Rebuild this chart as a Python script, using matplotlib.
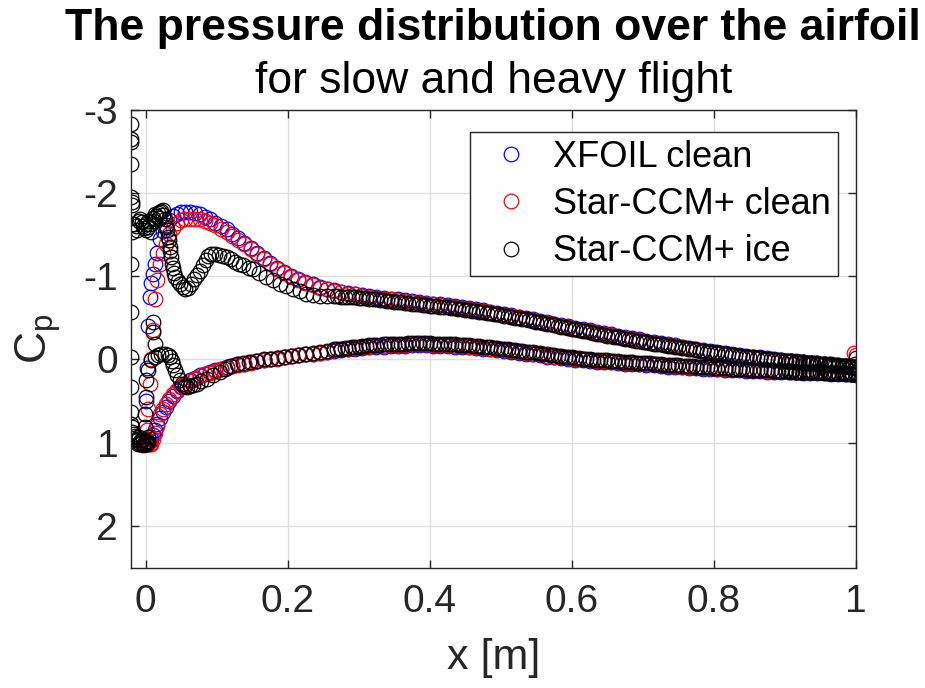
from __future__ import annotations

import matplotlib

matplotlib.use("Agg")
import matplotlib.pyplot as plt
import numpy as np


OUTPUT_PNG = "out.png"

TITLE = "The pressure distribution over the airfoil"
SUBTITLE = "for slow and heavy flight"
SERIES_LABELS = ["XFOIL clean", "Star-CCM+ clean", "Star-CCM+ ice"]
SERIES_COLORS = ["#0000ff", "#ff0000", "#000000"]

X_TICKS = [0, 0.2, 0.4, 0.6, 0.8, 1.0]
X_TICK_LABELS = ["0", "0.2", "0.4", "0.6", "0.8", "1"]
Y_TICKS = [-3, -2, -1, 0, 1, 2]
Y_TICK_LABELS = ["-3", "-2", "-1", "0", "1", "2"]

# chord stations shared by the clean curves (leading edge part + aft part)
X_LE = [
    0.000, 0.001, 0.002, 0.004, 0.006, 0.008, 0.010, 0.013, 0.016, 0.020,
    0.024, 0.028, 0.033, 0.038, 0.044, 0.050, 0.056, 0.062, 0.069, 0.076,
    0.083, 0.090, 0.098, 0.106, 0.114, 0.122, 0.130, 0.139, 0.148, 0.157,
    0.166, 0.175, 0.185, 0.195, 0.205, 0.215, 0.225, 0.235, 0.245, 0.255,
]
X_AFT = [
    0.265, 0.275, 0.285, 0.295, 0.305, 0.315, 0.325, 0.335, 0.345, 0.355,
    0.365, 0.375, 0.385, 0.395, 0.405, 0.415, 0.425, 0.435, 0.445, 0.455,
    0.465, 0.475, 0.485, 0.495, 0.505, 0.515, 0.525, 0.535, 0.545, 0.555,
    0.565, 0.575, 0.585, 0.595, 0.605, 0.615, 0.625, 0.635, 0.645, 0.655,
    0.665, 0.675, 0.685, 0.695, 0.705, 0.715, 0.725, 0.735, 0.745, 0.755,
    0.765, 0.775, 0.785, 0.795, 0.805, 0.815, 0.825, 0.835, 0.845, 0.855,
    0.865, 0.875, 0.885, 0.895, 0.905, 0.915, 0.925, 0.935, 0.945, 0.955,
    0.965, 0.975, 0.985, 0.995, 1.000,
]

# XFOIL clean
XFOIL_UPPER_CP = [
    0.95, 0.50, 0.10, -0.40, -0.75, -0.92, -1.02, -1.15, -1.28, -1.44,
    -1.54, -1.61, -1.67, -1.72, -1.75, -1.77, -1.77, -1.77, -1.76, -1.74,
    -1.71, -1.68, -1.64, -1.60, -1.56, -1.51, -1.46, -1.40, -1.34, -1.28,
    -1.22, -1.16, -1.10, -1.05, -1.00, -0.96, -0.93, -0.90, -0.87, -0.85,
    -0.83, -0.815, -0.80, -0.79, -0.775, -0.765, -0.75, -0.74, -0.73, -0.72,
    -0.71, -0.70, -0.69, -0.68, -0.67, -0.66, -0.65, -0.64, -0.625, -0.615,
    -0.60, -0.59, -0.575, -0.56, -0.545, -0.53, -0.515, -0.50, -0.48, -0.465,
    -0.45, -0.43, -0.415, -0.40, -0.38, -0.365, -0.35, -0.33, -0.315, -0.30,
    -0.285, -0.27, -0.255, -0.24, -0.225, -0.21, -0.20, -0.185, -0.17, -0.155,
    -0.14, -0.13, -0.115, -0.10, -0.09, -0.08, -0.065, -0.055, -0.045, -0.035,
    -0.025, -0.015, -0.005, 0.005, 0.015, 0.02, 0.03, 0.04, 0.045, 0.055,
    0.06, 0.07, 0.08, 0.09, 0.10,
]
XFOIL_LOWER_CP = [
    1.00, 1.01, 1.01, 1.00, 0.98, 0.95, 0.91, 0.85, 0.78, 0.70,
    0.63, 0.57, 0.50, 0.44, 0.38, 0.33, 0.29, 0.25, 0.22, 0.19,
    0.17, 0.15, 0.13, 0.11, 0.09, 0.08, 0.06, 0.05, 0.03, 0.02,
    0.01, 0.00, -0.02, -0.03, -0.04, -0.05, -0.06, -0.07, -0.08, -0.09,
    -0.10, -0.11, -0.12, -0.13, -0.14, -0.145, -0.15, -0.155, -0.16, -0.165,
    -0.165, -0.17, -0.17, -0.17, -0.165, -0.165, -0.16, -0.155, -0.15, -0.145,
    -0.14, -0.13, -0.12, -0.11, -0.10, -0.09, -0.08, -0.07, -0.06, -0.05,
    -0.035, -0.025, -0.015, -0.005, 0.005, 0.01, 0.02, 0.025, 0.03, 0.035,
    0.04, 0.05, 0.055, 0.06, 0.065, 0.07, 0.08, 0.085, 0.09, 0.095,
    0.10, 0.105, 0.11, 0.115, 0.12, 0.125, 0.13, 0.13, 0.135, 0.14,
    0.14, 0.145, 0.145, 0.15, 0.15, 0.155, 0.16, 0.16, 0.165, 0.165,
    0.17, 0.17, 0.175, 0.18, 0.19,
]

# Star-CCM+ clean
STAR_UPPER_CP = [
    1.00, 0.95, 0.85, 0.60, 0.30, 0.00, -0.35, -0.72, -0.95, -1.15,
    -1.28, -1.38, -1.50, -1.58, -1.64, -1.67, -1.69, -1.69, -1.69, -1.68,
    -1.66, -1.64, -1.61, -1.57, -1.53, -1.48, -1.43, -1.38, -1.32, -1.26,
    -1.20, -1.15, -1.09, -1.04, -0.99, -0.95, -0.92, -0.89, -0.86, -0.84,
    -0.82, -0.805, -0.79, -0.78, -0.765, -0.755, -0.74, -0.73, -0.72, -0.71,
    -0.70, -0.69, -0.68, -0.67, -0.66, -0.65, -0.64, -0.63, -0.615, -0.605,
    -0.59, -0.58, -0.565, -0.55, -0.535, -0.52, -0.505, -0.49, -0.47, -0.455,
    -0.44, -0.42, -0.405, -0.39, -0.37, -0.355, -0.34, -0.32, -0.305, -0.29,
    -0.275, -0.26, -0.245, -0.23, -0.215, -0.20, -0.19, -0.175, -0.16, -0.145,
    -0.13, -0.12, -0.105, -0.09, -0.08, -0.07, -0.055, -0.045, -0.035, -0.025,
    -0.015, -0.005, 0.005, 0.015, 0.02, 0.03, 0.035, 0.045, 0.05, 0.06,
    0.065, 0.075, 0.08, 0.09, 0.10,
]
STAR_LOWER_CP = [
    1.00, 1.01, 1.01, 1.02, 1.02, 1.01, 0.96, 0.88, 0.80, 0.66,
    0.59, 0.53, 0.47, 0.41, 0.37, 0.32, 0.29, 0.26, 0.23, 0.20,
    0.18, 0.16, 0.14, 0.12, 0.10, 0.08, 0.07, 0.05, 0.04, 0.02,
    0.01, 0.00, -0.01, -0.03, -0.04, -0.05, -0.06, -0.07, -0.08, -0.09,
    -0.11, -0.12, -0.13, -0.14, -0.15, -0.155, -0.16, -0.165, -0.17, -0.175,
    -0.175, -0.18, -0.18, -0.18, -0.175, -0.175, -0.17, -0.165, -0.16, -0.155,
    -0.15, -0.14, -0.13, -0.12, -0.11, -0.10, -0.09, -0.08, -0.07, -0.06,
    -0.045, -0.035, -0.025, -0.015, -0.005, 0.00, 0.01, 0.015, 0.02, 0.025,
    0.03, 0.04, 0.045, 0.05, 0.055, 0.06, 0.07, 0.075, 0.08, 0.085,
    0.09, 0.095, 0.10, 0.105, 0.11, 0.115, 0.12, 0.12, 0.125, 0.13,
    0.13, 0.135, 0.135, 0.14, 0.14, 0.145, 0.15, 0.15, 0.155, 0.155,
    0.16, 0.16, 0.165, 0.17, 0.17,
]
STAR_TE_X = [0.997, 1.000]
STAR_TE_CP = [-0.08, -0.05]

# Star-CCM+ ice: leading edge (ice horn) points
ICE_UPPER_LE_X = [
    -0.0205, -0.0205, -0.0200, -0.0205, -0.0200, -0.0197, -0.0195, -0.0197, -0.0190, -0.0205,
    -0.0205, -0.0140, -0.0100, -0.0056, -0.0020, 0.0010, 0.0040, 0.0080, 0.0100, 0.0130,
    0.0170, 0.0200, 0.0250, 0.0270, 0.0280, 0.0300, 0.0320, 0.0330, 0.0340, 0.0350,
    0.0360, 0.0370, 0.0380, 0.0400, 0.0420, 0.0450, 0.0480, 0.0520, 0.0560, 0.0600,
    0.0640, 0.0680, 0.0720, 0.0760, 0.0810, 0.0850, 0.0880, 0.0920, 0.0970, 0.1030,
    0.1090, 0.1140, 0.1200, 0.1260, 0.1320, 0.1370, 0.1450, 0.1510, 0.1600, 0.1700,
    0.1800, 0.1890, 0.1980, 0.2080, 0.2170, 0.2260, 0.2350, 0.2450, 0.2550,
]
ICE_UPPER_LE_CP = [
    -2.83, -2.65, -2.61, -2.35, -1.95, -1.89, -1.85, -1.63, -1.53, -1.15,
    -0.57, -1.60, -1.66, -1.65, -1.58, -1.62, -1.59, -1.53, -1.70, -1.75,
    -1.76, -1.77, -1.79, -1.68, -1.59, -1.55, -1.47, -1.43, -1.35, -1.30,
    -1.23, -1.15, -1.10, -1.04, -0.99, -0.94, -0.90, -0.87, -0.85, -0.86,
    -0.90, -0.96, -1.01, -1.06, -1.13, -1.19, -1.24, -1.26, -1.26, -1.25,
    -1.24, -1.23, -1.20, -1.17, -1.15, -1.13, -1.10, -1.08, -1.04, -0.99,
    -0.95, -0.91, -0.88, -0.85, -0.82, -0.79, -0.77, -0.765, -0.76,
]
ICE_LOWER_LE_X = [
    -0.0205, -0.0205, -0.0200, -0.0200, -0.0195, -0.0190, -0.0150, -0.0120, -0.0100, -0.0080,
    -0.0060, -0.0040, -0.0020, 0.0000, 0.0020, 0.0040, -0.0010, -0.0010, 0.0000, 0.0010,
    0.0040, 0.0080, 0.0100, 0.0110, 0.0130, 0.0130, 0.0180, 0.0220, 0.0270, 0.0310,
    0.0340, 0.0370, 0.0390, 0.0420, 0.0440, 0.0480, 0.0510, 0.0550, 0.0580, 0.0620,
    0.0670, 0.0720, 0.0780, 0.0860, 0.0950, 0.1050, 0.1120, 0.1190, 0.1280, 0.1370,
    0.1460, 0.1560, 0.1660, 0.1760, 0.1860, 0.1960, 0.2060, 0.2160, 0.2260, 0.2360,
    0.2460, 0.2560,
]
ICE_LOWER_LE_CP = [
    -0.03, 0.33, 0.63, 0.78, 0.81, 0.87, 0.92, 0.95, 1.00, 1.02,
    0.97, 1.03, 1.02, 0.98, 1.01, 0.99, 0.81, 0.65, 0.45, 0.25,
    0.13, 0.01, -0.45, -0.33, -0.19, -0.03, -0.05, -0.06, -0.07, -0.05,
    -0.03, 0.02, 0.07, 0.13, 0.19, 0.25, 0.29, 0.32, 0.33, 0.32,
    0.31, 0.29, 0.26, 0.23, 0.19, 0.15, 0.12, 0.08, 0.06, 0.04,
    0.03, 0.02, 0.00, -0.01, -0.02, -0.03, -0.04, -0.05, -0.07, -0.08,
    -0.09, -0.10,
]
# extra cells packed on the horn tip and near stagnation
ICE_CLUSTER_X = [
    -0.0170, -0.0120, -0.0080, -0.0040, 0.0000, 0.0030, 0.0060, 0.0120, 0.0150, 0.0190,
    0.0220, 0.0240, -0.0160, -0.0140, -0.0110, -0.0090, -0.0070, -0.0030, 0.0010, 0.0030,
]
ICE_CLUSTER_CP = [
    -1.62, -1.55, -1.69, -1.60, -1.55, -1.66, -1.62, -1.66, -1.72, -1.70,
    -1.78, -1.73, 0.90, 0.97, 1.01, 0.93, 0.99, 0.96, 1.00, 0.93,
]
# Star-CCM+ ice: aft part on X_AFT
ICE_UPPER_AFT_CP = [
    -0.76, -0.755, -0.75, -0.745, -0.74, -0.73, -0.72, -0.71, -0.70, -0.69,
    -0.68, -0.67, -0.66, -0.65, -0.64, -0.635, -0.625, -0.615, -0.60, -0.59,
    -0.58, -0.565, -0.555, -0.54, -0.525, -0.51, -0.495, -0.48, -0.46, -0.445,
    -0.43, -0.41, -0.395, -0.38, -0.36, -0.345, -0.33, -0.31, -0.295, -0.28,
    -0.265, -0.25, -0.235, -0.22, -0.205, -0.19, -0.18, -0.165, -0.15, -0.14,
    -0.125, -0.115, -0.10, -0.09, -0.08, -0.07, -0.055, -0.045, -0.035, -0.025,
    -0.015, -0.005, 0.005, 0.01, 0.02, 0.025, 0.035, 0.045, 0.05, 0.06,
    0.065, 0.075, 0.08, 0.09, 0.10,
]
ICE_LOWER_AFT_CP = [
    -0.12, -0.13, -0.14, -0.15, -0.16, -0.17, -0.175, -0.18, -0.185, -0.19,
    -0.19, -0.195, -0.195, -0.195, -0.19, -0.19, -0.185, -0.18, -0.175, -0.17,
    -0.165, -0.155, -0.145, -0.135, -0.125, -0.115, -0.105, -0.095, -0.085, -0.075,
    -0.06, -0.05, -0.04, -0.03, -0.02, -0.01, 0.00, 0.005, 0.01, 0.015,
    0.02, 0.03, 0.035, 0.04, 0.045, 0.05, 0.06, 0.065, 0.07, 0.075,
    0.08, 0.085, 0.09, 0.095, 0.10, 0.105, 0.11, 0.115, 0.12, 0.125,
    0.125, 0.13, 0.135, 0.14, 0.14, 0.145, 0.15, 0.15, 0.155, 0.155,
    0.16, 0.16, 0.165, 0.17, 0.17,
]
# Star-CCM+ ice: in-between stations (the CFD surface mesh is finer)
ICE_MID_X = [
    0.27, 0.28, 0.29, 0.30, 0.31, 0.32, 0.33, 0.34, 0.35, 0.36,
    0.37, 0.38, 0.39, 0.40, 0.41, 0.42, 0.43, 0.44, 0.45, 0.46,
    0.47, 0.48, 0.49, 0.50, 0.51, 0.52, 0.53, 0.54, 0.55, 0.56,
    0.57, 0.58, 0.59, 0.60, 0.61, 0.62, 0.63, 0.64, 0.65, 0.66,
    0.67, 0.68, 0.69, 0.70, 0.71, 0.72, 0.73, 0.74, 0.75, 0.76,
    0.77, 0.78, 0.79, 0.80, 0.81, 0.82, 0.83, 0.84, 0.85, 0.86,
    0.87, 0.88, 0.89, 0.90, 0.91, 0.92, 0.93, 0.94, 0.95, 0.96,
    0.97, 0.98, 0.99,
]
ICE_MID_UPPER_CP = [
    -0.757, -0.752, -0.748, -0.742, -0.735, -0.725, -0.715, -0.705, -0.695, -0.685,
    -0.675, -0.665, -0.655, -0.645, -0.637, -0.63, -0.62, -0.607, -0.595, -0.585,
    -0.572, -0.56, -0.547, -0.532, -0.517, -0.502, -0.487, -0.47, -0.452, -0.437,
    -0.42, -0.402, -0.387, -0.37, -0.352, -0.337, -0.32, -0.302, -0.287, -0.272,
    -0.257, -0.242, -0.227, -0.212, -0.197, -0.185, -0.172, -0.157, -0.145, -0.132,
    -0.12, -0.107, -0.095, -0.085, -0.075, -0.062, -0.05, -0.04, -0.03, -0.02,
    -0.01, 0.00, 0.008, 0.015, 0.022, 0.03, 0.04, 0.048, 0.055, 0.062,
    0.07, 0.078, 0.085,
]
ICE_MID_LOWER_CP = [
    -0.125, -0.135, -0.145, -0.155, -0.165, -0.172, -0.177, -0.182, -0.187, -0.19,
    -0.192, -0.195, -0.195, -0.192, -0.19, -0.187, -0.182, -0.177, -0.172, -0.167,
    -0.16, -0.15, -0.14, -0.13, -0.12, -0.11, -0.10, -0.09, -0.08, -0.067,
    -0.055, -0.045, -0.035, -0.025, -0.015, -0.005, 0.002, 0.007, 0.012, 0.017,
    0.025, 0.032, 0.037, 0.042, 0.047, 0.055, 0.062, 0.067, 0.072, 0.077,
    0.082, 0.087, 0.092, 0.097, 0.102, 0.107, 0.112, 0.117, 0.122, 0.125,
    0.127, 0.132, 0.137, 0.14, 0.142, 0.147, 0.15, 0.152, 0.155, 0.157,
    0.16, 0.162, 0.167,
]
# Star-CCM+ ice: refined trailing edge cells
ICE_TE_X = [
    0.902, 0.908, 0.914, 0.920, 0.926, 0.932, 0.938, 0.944, 0.950, 0.956,
    0.962, 0.968, 0.974, 0.980, 0.984, 0.988, 0.992, 0.995, 0.998, 1.000,
]
ICE_TE_UPPER_CP = [
    0.015, 0.02, 0.025, 0.03, 0.035, 0.04, 0.045, 0.045, 0.05, 0.055,
    0.06, 0.065, 0.07, 0.075, 0.08, 0.08, 0.085, 0.09, 0.05, -0.02,
]
ICE_TE_LOWER_CP = [
    0.14, 0.145, 0.145, 0.15, 0.15, 0.15, 0.155, 0.155, 0.155, 0.16,
    0.16, 0.16, 0.165, 0.165, 0.165, 0.17, 0.17, 0.17, 0.15, 0.10,
]

AX_GRAY = "#262626"
AX_RECT = [0.1413, 0.1749, 0.7841, 0.6659]


def build_series() -> list[tuple[np.ndarray, np.ndarray]]:
    x_clean = X_LE + X_AFT
    xfoil_x = np.array(x_clean + x_clean)
    xfoil_cp = np.array(XFOIL_UPPER_CP + XFOIL_LOWER_CP)
    star_x = np.array(x_clean + x_clean + STAR_TE_X)
    star_cp = np.array(STAR_UPPER_CP + STAR_LOWER_CP + STAR_TE_CP)
    ice_x = np.array(
        ICE_UPPER_LE_X + ICE_LOWER_LE_X + ICE_CLUSTER_X
        + X_AFT + X_AFT + ICE_MID_X + ICE_MID_X + ICE_TE_X + ICE_TE_X
    )
    ice_cp = np.array(
        ICE_UPPER_LE_CP + ICE_LOWER_LE_CP + ICE_CLUSTER_CP
        + ICE_UPPER_AFT_CP + ICE_LOWER_AFT_CP + ICE_MID_UPPER_CP + ICE_MID_LOWER_CP
        + ICE_TE_UPPER_CP + ICE_TE_LOWER_CP
    )
    return [(xfoil_x, xfoil_cp), (star_x, star_cp), (ice_x, ice_cp)]


def plot_cp(output_path: str) -> None:
    plt.rcParams["font.family"] = ["Liberation Sans", "DejaVu Sans"]
    plt.rcParams["axes.unicode_minus"] = False

    fig = plt.figure(figsize=(9.25, 6.88), dpi=100)
    ax = fig.add_axes(AX_RECT)

    for (x, cp), label, color in zip(build_series(), SERIES_LABELS, SERIES_COLORS):
        ax.plot(
            x,
            cp,
            linestyle="none",
            marker="o",
            markersize=10.5,
            markerfacecolor="none",
            markeredgecolor=color,
            markeredgewidth=0.9,
            label=label,
        )

    ax.set_xlim(-0.021, 1.0)
    ax.set_ylim(2.5, -3.0)
    ax.set_xticks(X_TICKS, X_TICK_LABELS)
    ax.set_yticks(Y_TICKS, Y_TICK_LABELS)
    ax.tick_params(
        axis="both", direction="in", length=5.5, width=1.0, colors=AX_GRAY,
        labelsize=28, top=True, right=True,
    )
    ax.tick_params(axis="x", pad=12)
    ax.tick_params(axis="y", pad=9)
    for spine in ax.spines.values():
        spine.set_color(AX_GRAY)
        spine.set_linewidth(1.0)
    ax.grid(True, color="#dedede", linewidth=1.0)
    ax.set_axisbelow(True)

    ax.set_xlabel("x [m]", fontsize=31, color=AX_GRAY, labelpad=13)
    ax.set_ylabel("C$_\\mathregular{p}$", fontsize=32, color=AX_GRAY, labelpad=15)

    legend = ax.legend(
        loc="upper right",
        bbox_to_anchor=(0.975, 0.950),
        borderaxespad=0.0,
        fontsize=26,
        numpoints=1,
        fancybox=False,
        framealpha=1.0,
        edgecolor=AX_GRAY,
        borderpad=0.2,
        labelspacing=0.34,
        handlelength=1.9,
        handletextpad=0.2,
    )
    legend.get_frame().set_linewidth(1.0)

    center_x = AX_RECT[0] + AX_RECT[2] / 2
    fig.text(center_x, 0.942, TITLE, ha="center", va="baseline", fontsize=32, fontweight="bold")
    fig.text(center_x, 0.8645, SUBTITLE, ha="center", va="baseline", fontsize=32)

    fig.savefig(output_path, dpi=100)
    plt.close(fig)


def main() -> None:
    plot_cp(OUTPUT_PNG)


if __name__ == "__main__":
    main()
